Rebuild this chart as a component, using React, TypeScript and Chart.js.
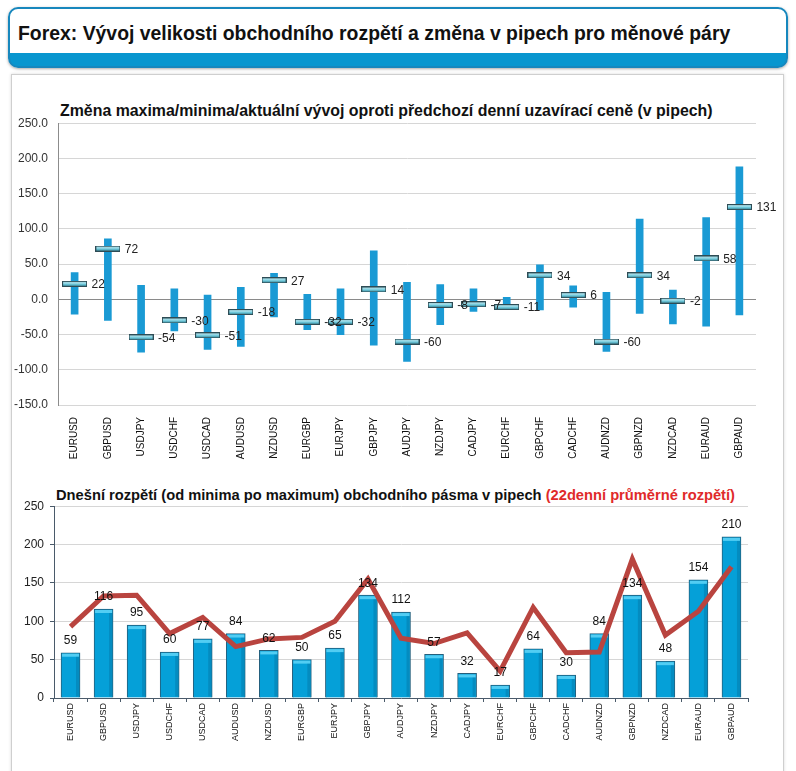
import React, { useEffect, useRef } from "react";
import { Chart, registerables } from "chart.js";

Chart.register(...registerables);

const categories = [
  "EURUSD", "GBPUSD", "USDJPY", "USDCHF", "USDCAD", "AUDUSD", "NZDUSD",
  "EURGBP", "EURJPY", "GBPJPY", "AUDJPY", "NZDJPY", "CADJPY", "EURCHF",
  "GBPCHF", "CADCHF", "AUDNZD", "GBPNZD", "NZDCAD", "EURAUD", "GBPAUD",
];
const highs = [38, 86, 20, 15, 6, 17, 37, 7, 15, 69, 24, 21, 15, 3, 49, 19, 10, 114, 13, 116, 188];
const lows = [-21, -30, -75, -45, -71, -67, -25, -43, -50, -65, -88, -36, -17, -14, -15, -11, -74, -20, -35, -38, -22];
const current = [22, 72, -54, -30, -51, -18, 27, -32, -32, 14, -60, -8, -7, -11, 34, 6, -60, 34, -2, 58, 131];
const ranges = [59, 116, 95, 60, 77, 84, 62, 50, 65, 134, 112, 57, 32, 17, 64, 30, 84, 134, 48, 154, 210];
const avg22 = [93, 133, 134, 84, 105, 67, 77, 79, 100, 155, 78, 71, 85, 35, 118, 59, 60, 181, 82, 113, 171];
const topTicks = [-150, 250, 50];
const bottomTicks = [0, 250, 50];

const FONT = "'Liberation Sans', Arial, sans-serif";

function makeMarker(): HTMLCanvasElement {
  const c = document.createElement("canvas");
  c.width = 25;
  c.height = 6;
  const g = c.getContext("2d")!;
  const grad = g.createLinearGradient(0, 0, 0, 6);
  grad.addColorStop(0, "#3f7f8f");
  grad.addColorStop(0.3, "#b4e8f2");
  grad.addColorStop(0.6, "#66c3d6");
  grad.addColorStop(1, "#2a6676");
  g.fillStyle = grad;
  g.fillRect(0, 0, 25, 6);
  g.strokeStyle = "#2e4c55";
  g.lineWidth = 1;
  g.strokeRect(0.5, 0.5, 24, 5);
  return c;
}

const topLabelPlugin = {
  id: "topLabels",
  afterDatasetsDraw(chart: any) {
    const meta = chart.getDatasetMeta(0);
    const ctx = chart.ctx;
    ctx.save();
    ctx.font = `12px ${FONT}`;
    ctx.fillStyle = "#222";
    ctx.textAlign = "left";
    ctx.textBaseline = "middle";
    meta.data.forEach((el: any, i: number) => {
      ctx.fillText(String(current[i]), el.x + 17, el.y + 1);
    });
    ctx.restore();
  },
};

const bottomLabelPlugin = {
  id: "bottomLabels",
  afterDatasetDraw(chart: any, args: any) {
    if (args.index !== 1) return;
    const meta = chart.getDatasetMeta(1);
    const ctx = chart.ctx;
    ctx.save();
    meta.data.forEach((el: any) => {
      const w = el.width;
      ctx.fillStyle = "#52cdf3";
      ctx.fillRect(el.x - w / 2 + 1, el.y + 1, w - 2, 3);
      ctx.fillStyle = "rgba(0,60,100,0.2)";
      ctx.fillRect(el.x + w / 2 - 4, el.y + 4, 3, el.base - el.y - 5);
    });
    ctx.restore();
  },
  afterDatasetsDraw(chart: any) {
    const meta = chart.getDatasetMeta(1);
    const ctx = chart.ctx;
    ctx.save();
    ctx.font = `12px ${FONT}`;
    ctx.fillStyle = "#111";
    ctx.textAlign = "center";
    ctx.textBaseline = "middle";
    meta.data.forEach((el: any, i: number) => {
      ctx.fillText(String(ranges[i]), el.x, el.y - 12);
    });
    ctx.restore();
  },
};

export default function App() {
  const topRef = useRef<HTMLCanvasElement>(null);
  const botRef = useRef<HTMLCanvasElement>(null);

  useEffect(() => {
    const marker = makeMarker();
    const top = new Chart(topRef.current!, {
      type: "bar",
      data: {
        labels: categories,
        datasets: [
          {
            type: "line",
            data: current,
            showLine: false,
            pointStyle: marker as any,
            pointRadius: 12,
            order: 0,
          } as any,
          {
            type: "bar",
            data: highs.map((h, i) => [lows[i], h]) as any,
            backgroundColor: "#1a9ad4",
            borderWidth: 0,
            barThickness: 7,
            order: 1,
          },
        ],
      },
      options: {
        animation: false,
        responsive: false,
        maintainAspectRatio: false,
        layout: { padding: { top: 3, right: 40, left: 0, bottom: 0 } },
        plugins: { legend: { display: false }, tooltip: { enabled: false }, title: { display: false } },
        scales: {
          x: {
            grid: { display: false },
            border: { display: false },
            ticks: {
              autoSkip: false,
              maxRotation: 90,
              minRotation: 90,
              padding: 4,
              color: "#111",
              font: { family: FONT, size: 10 },
            },
            afterFit: (s: any) => { s.height = 57; },
          },
          y: {
            min: topTicks[0],
            max: topTicks[1],
            ticks: {
              stepSize: topTicks[2],
              padding: 10,
              color: "#333",
              font: { family: FONT, size: 12 },
              callback: (v: any) => Number(v).toFixed(1),
            },
            grid: {
              drawTicks: false,
              color: (c: any) => (c.tick && c.tick.value === 0 ? "#8a8a8a" : "#d6d6d6"),
            },
            border: { color: "#8c8c8c" },
            afterFit: (s: any) => { s.width = 58; },
          },
        },
      },
      plugins: [topLabelPlugin],
    });

    const bot = new Chart(botRef.current!, {
      type: "bar",
      data: {
        labels: categories,
        datasets: [
          {
            type: "line",
            data: avg22,
            borderColor: "#b9443f",
            borderWidth: 5,
            pointRadius: 0,
            tension: 0,
            order: 0,
          } as any,
          {
            type: "bar",
            data: ranges,
            backgroundColor: "#05a0d8",
            borderColor: "#245f7c",
            borderWidth: 1,
            barThickness: 19,
            order: 1,
          },
        ],
      },
      options: {
        animation: false,
        responsive: false,
        maintainAspectRatio: false,
        layout: { padding: { top: 3, right: 48, left: 0, bottom: 0 } },
        plugins: { legend: { display: false }, tooltip: { enabled: false }, title: { display: false } },
        scales: {
          x: {
            grid: { drawOnChartArea: false, drawTicks: true, tickLength: 4, tickColor: "#4a5a6a" },
            border: { color: "#4a5a6a" },
            ticks: {
              autoSkip: false,
              maxRotation: 90,
              minRotation: 90,
              padding: 1,
              color: "#111",
              font: { family: FONT, size: 9 },
            },
            afterFit: (s: any) => { s.height = 74; },
          },
          y: {
            min: bottomTicks[0],
            max: bottomTicks[1],
            ticks: {
              stepSize: bottomTicks[2],
              padding: 6,
              color: "#222",
              font: { family: FONT, size: 12 },
            },
            grid: { color: "#d6d6d6", drawTicks: true, tickLength: 4, tickColor: "#4a5a6a" },
            border: { color: "#4a5a6a" },
            afterFit: (s: any) => { s.width = 54; },
          },
        },
      },
      plugins: [bottomLabelPlugin],
    });

    return () => {
      top.destroy();
      bot.destroy();
    };
  }, []);

  return (
    <div style={{ position: "absolute", left: 0, top: 0, width: 796, height: 771, overflow: "hidden", background: "#fff", fontFamily: FONT }}>
      <div
        style={{
          position: "absolute", left: 11, top: 74, width: 771, height: 720,
          border: "1px solid #cfcfcf", boxShadow: "0 0 3px rgba(0,0,0,0.15)", background: "#fff",
        }}
      />
      <div
        style={{
          position: "absolute", left: 8, top: 7, width: 776, height: 57,
          border: "2px solid #1787bd", borderRadius: 10, overflow: "hidden",
          background: "linear-gradient(#ffffff 0, #ffffff 44px, #0896cf 44px, #0896cf 100%)",
          boxShadow: "0 1px 3px rgba(0,0,0,0.35)",
        }}
      >
        <div style={{ position: "absolute", left: 8, top: 13, fontSize: 19.4, fontWeight: "bold", lineHeight: "22px", color: "#111", whiteSpace: "nowrap" }}>
          Forex: Vývoj velikosti obchodního rozpětí a změna v pipech pro měnové páry
        </div>
      </div>
      <div style={{ position: "absolute", left: 60, top: 102, fontSize: 15.9, fontWeight: "bold", lineHeight: "18px", color: "#111", whiteSpace: "nowrap" }}>
        Změna maxima/minima/aktuální vývoj oproti předchozí denní uzavírací ceně (v pipech)
      </div>
      <canvas ref={topRef} width={796} height={356} style={{ position: "absolute", left: 0, top: 106, width: 796, height: 356 }} />
      <div style={{ position: "absolute", left: 56, top: 486, fontSize: 14.7, fontWeight: "bold", lineHeight: "18px", color: "#111", whiteSpace: "nowrap" }}>
        Dnešní rozpětí (od minima po maximum) obchodního pásma v pipech{" "}
        <span style={{ color: "#e02a2a" }}>(22denní průměrné rozpětí)</span>
      </div>
      <canvas ref={botRef} width={796} height={279} style={{ position: "absolute", left: 0, top: 493, width: 796, height: 279 }} />
    </div>
  );
}
